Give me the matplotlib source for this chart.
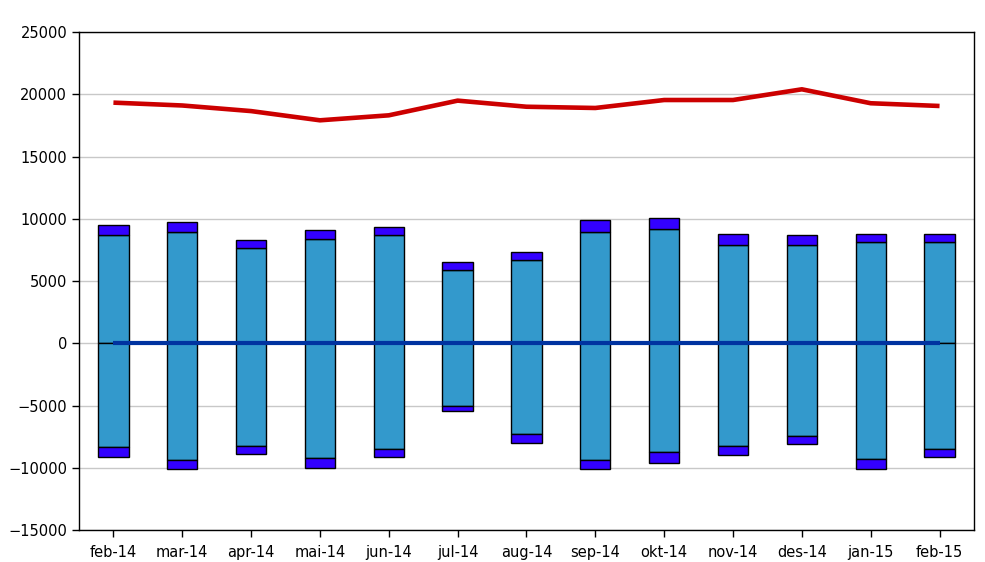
import numpy as np
import matplotlib.pyplot as plt

# Data
months = ["feb-14", "mar-14", "apr-14", "mai-14", "jun-14", "jul-14", "aug-14",
          "sep-14", "okt-14", "nov-14", "des-14", "jan-15", "feb-15"]
pos_base = [8700, 8900, 7650, 8400, 8680, 5900, 6650, 8920, 9160, 7930, 7930, 8140, 8140]
pos_top = [9480, 9720, 8330, 9080, 9340, 6560, 7310, 9930, 10090, 8810, 8700, 8810, 8810]
neg_base = [-8350, -9350, -8220, -9240, -8460, -5070, -7260, -9350, -8760, -8220, -7440, -9260, -8490]
neg_bottom = [-9130, -10120, -8890, -10040, -9130, -5420, -8010, -10120, -9610, -8970, -8110, -10120, -9130]
total = [19330, 19100, 18650, 17910, 18310, 19490, 19000, 18900, 19540, 19540, 20400, 19280, 19060]
net = [0, 0, 0, 0, 0, 0, 0, 0, 0, 0, 0, 0, 0]

light_col = "#3399cc"
dark_col = "#3300ff"

fig = plt.figure(figsize=(9.85, 5.62), dpi=100)
ax = fig.add_axes([0.0802, 0.0569, 0.9086, 0.8861])

x = np.arange(len(months))
w = 0.44
pos_base = np.array(pos_base)
pos_top = np.array(pos_top)
neg_base = np.array(neg_base)
neg_bottom = np.array(neg_bottom)

# Bars (light part from zero, dark cap on the end)
ax.bar(x, pos_base, w, color=light_col, edgecolor="black", linewidth=1, zorder=2)
ax.bar(x, pos_top - pos_base, w, bottom=pos_base, color=dark_col, edgecolor="black", linewidth=1, zorder=2)
ax.bar(x, neg_base, w, color=light_col, edgecolor="black", linewidth=1, zorder=2)
ax.bar(x, neg_bottom - neg_base, w, bottom=neg_base, color=dark_col, edgecolor="black", linewidth=1, zorder=2)

# Lines
ax.plot(x, total, color="#cc0000", linewidth=3.3, solid_capstyle="butt", zorder=3)
ax.plot(x, net, color="#0033a0", linewidth=3, solid_capstyle="butt", zorder=3)

# Axes styling
ax.set_xlim(-0.5, len(months) - 0.5)
ax.set_ylim(-15000, 25000)
ax.set_yticks(np.arange(-15000, 25001, 5000))
ax.set_xticks(x)
ax.set_xticklabels(months)
ax.grid(axis="y", color="#c8c8c8", linewidth=1, zorder=0)
ax.set_axisbelow(True)
for s in ax.spines.values():
    s.set_color("black")
    s.set_linewidth(1)
ax.tick_params(axis="both", direction="out", length=5, width=1, labelsize=10.5, colors="black")
ax.tick_params(axis="x", pad=6)

plt.savefig("out.png", dpi=100)
plt.close()
